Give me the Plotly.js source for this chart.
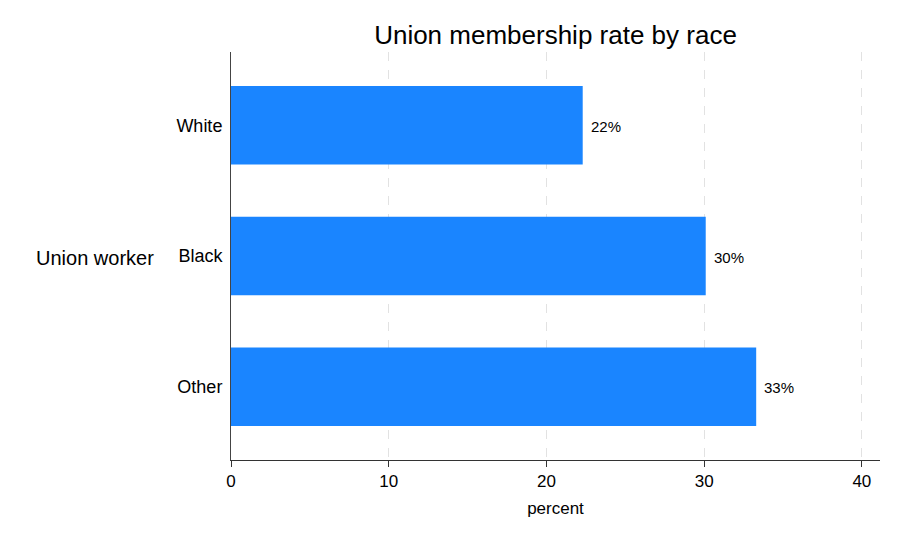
<!DOCTYPE html>
<html>
<head>
<meta charset="utf-8">
<script src="https://cdn.plot.ly/plotly-3.0.1.min.js"></script>
<style>
  html, body { margin: 0; padding: 0; background: #fff; }
  #chart { width: 900px; height: 540px; }
</style>
</head>
<body>
<div id="chart"></div>
<script>
// union membership rate (percent) by race
const races = ["White", "Black", "Other"];
const rates = [22.3, 30.1, 33.3];
const xTicks = [0, 10, 20, 30, 40];

const font = "Liberation Sans, Arial, Helvetica, sans-serif";
const barColor = "#1a85ff";

const trace = {
  type: "bar",
  orientation: "h",
  y: races,
  x: rates,
  marker: { color: barColor, line: { width: 0 } },
  hoverinfo: "skip"
};

// value labels just right of each bar
const labels = races.map((r, i) => ({
  x: rates[i],
  y: r,
  xref: "x",
  yref: "y",
  text: Math.round(rates[i]) + "%",
  showarrow: false,
  xanchor: "left",
  xshift: 6,
  yshift: -1,
  font: { family: font, size: 15, color: "#000" }
}));

// horizontal y-axis title on the far left
labels.push({
  x: -0.116,
  y: "Black",
  xref: "paper",
  yref: "y",
  text: "Union worker",
  showarrow: false,
  xanchor: "right",
  yshift: -2,
  font: { family: font, size: 20, color: "#000" }
});

const layout = {
  width: 900,
  height: 540,
  margin: { l: 231, r: 20, t: 52, b: 80 },
  paper_bgcolor: "#fff",
  plot_bgcolor: "#fff",
  showlegend: false,
  bargap: 0.4,
  font: { family: font, color: "#000" },
  title: {
    text: "Union membership rate by race",
    font: { family: font, size: 26, color: "#000" },
    x: 0.5,
    xref: "paper",
    y: 0.935,
    yref: "container",
    yanchor: "middle"
  },
  xaxis: {
    range: [0, 41.15],
    tickvals: xTicks,
    ticktext: xTicks.map(String),
    ticks: "outside",
    ticklen: 6,
    tickcolor: "#333",
    tickfont: { size: 17 },
    showline: true,
    linecolor: "#333",
    linewidth: 1,
    showgrid: true,
    gridcolor: "#e2e2e2",
    griddash: "dash",
    zeroline: false,
    title: { text: "percent", font: { size: 17 }, standoff: 11 },
    fixedrange: true
  },
  yaxis: {
    type: "category",
    categoryarray: races,
    range: [2.56, -0.56],
    ticks: "outside",
    ticklen: 4,
    tickcolor: "rgba(0,0,0,0)",
    tickfont: { size: 18 },
    showline: true,
    linecolor: "#444",
    linewidth: 1,
    showgrid: false,
    zeroline: false,
    fixedrange: true
  },
  annotations: labels
};

Plotly.newPlot("chart", [trace], layout, { displayModeBar: false, staticPlot: true });
</script>
</body>
</html>
